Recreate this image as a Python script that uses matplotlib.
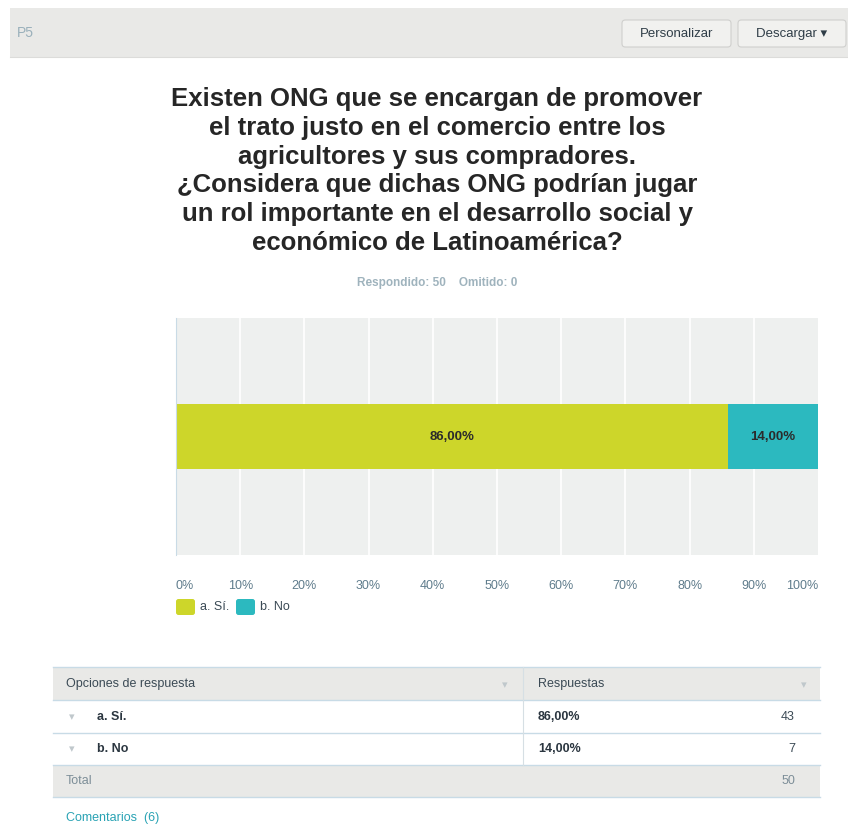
import matplotlib.pyplot as plt
from matplotlib.patches import Rectangle, FancyBboxPatch

plt.rcParams['font.family'] = ['Liberation Sans', 'DejaVu Sans']

# data
categories = ['a. Sí.', 'b. No']
percents = [86.0, 14.0]
counts = [43, 7]
answered = 50
skipped = 0
comments = 6
colors = ['#cdd62a', '#2cb9bf']
ticks = [0, 10, 20, 30, 40, 50, 60, 70, 80, 90, 100]

W, H = 848, 834
fig = plt.figure(figsize=(W / 100, H / 100), dpi=100)


def fx(x):
    return x / W


def fy(y):
    return 1 - y / H


def box(x0, y0, x1, y1, fc, ec='none', lw=0.8):
    fig.patches.append(Rectangle((fx(x0), fy(y1)), fx(x1) - fx(x0), fy(y0) - fy(y1),
                                 transform=fig.transFigure, fc=fc, ec=ec, lw=lw))


def line(x0, y0, x1, y1, c, lw=0.8):
    fig.add_artist(plt.Line2D([fx(x0), fx(x1)], [fy(y0), fy(y1)], color=c, lw=lw,
                              transform=fig.transFigure))


# header bar
box(10, 8, 848, 57, '#e9e9e7')
line(10, 57, 848, 57, '#dcdcda')
fig.text(fx(17), fy(33), 'P5', fontsize=10, color='#9ab0bb', va='center')
for x0, x1, label in [(622, 731, 'Personalizar'), (738, 846, 'Descargar ▾')]:
    fig.patches.append(FancyBboxPatch((fx(x0), fy(47)), fx(x1) - fx(x0), fy(20) - fy(47),
                                      boxstyle='round,pad=0,rounding_size=0.004',
                                      transform=fig.transFigure, fc='#f1f1ef', ec='#cfcfcd', lw=0.8))
    fig.text(fx((x0 + x1) / 2), fy(34), label, fontsize=9.5, color='#2f3d47',
             ha='center', va='center', family=['Liberation Sans', 'DejaVu Sans'])

# title
title = ('Existen ONG que se encargan de promover\n'
         'el trato justo en el comercio entre los\n'
         'agricultores y sus compradores.\n'
         '¿Considera que dichas ONG podrían jugar\n'
         'un rol importante en el desarrollo social y\n'
         'económico de Latinoamérica?')
fig.text(fx(437), fy(171), title, fontsize=18.5, fontweight='bold', color='#262626',
         ha='center', va='center', linespacing=1.25)
fig.text(fx(437), fy(283), f'Respondido: {answered}    Omitido: {skipped}', fontsize=8.5,
         fontweight='bold', color='#9fb3bd', ha='center', va='center')

# chart
ax = fig.add_axes([fx(176), fy(555), fx(818) - fx(176), fy(318) - fy(555)])
ax.set_facecolor('#eef0ef')
ax.set_xlim(0, 100)
ax.set_ylim(-1.85, 1.85)
for t in ticks[1:-1]:
    ax.axvline(t, color='white', lw=1.2, zorder=0)
left = 0
for cat, p, c in zip(categories, percents, colors):
    ax.barh(0, p, left=left, height=1.0, color=c, zorder=2)
    ax.text(left + p / 2, 0, f'{p:.2f}%'.replace('.', ','), ha='center', va='center',
            fontsize=9.5, fontweight='bold', color='#2b2b2b', zorder=3)
    left += p
for s in ['top', 'right', 'bottom']:
    ax.spines[s].set_visible(False)
ax.spines['left'].set_color('#c9dbe6')
ax.set_yticks([])
ax.set_xticks(ticks)
ax.set_xticklabels([f'{t}%' for t in ticks], fontsize=9, color='#5f7c8c')
ax.tick_params(axis='x', length=0, pad=18)
lbls = ax.get_xticklabels()
lbls[0].set_ha('left')
lbls[-1].set_ha('right')

# legend
for x0, cat, c in [(176, categories[0], colors[0]), (236, categories[1], colors[1])]:
    fig.patches.append(FancyBboxPatch((fx(x0), fy(615)), fx(19), fy(0) - fy(16),
                                      boxstyle='round,pad=0,rounding_size=0.003',
                                      transform=fig.transFigure, fc=c, ec='none'))
    fig.text(fx(x0 + 24), fy(607), cat, fontsize=9, color='#3b4a55', va='center')

# table
tx0, tx1, tdiv = 53, 820, 523
box(tx0, 667, tx1, 700, '#e9e9e7')
box(tx0, 765, tx1, 797, '#e9e9e7')
for y in [667, 700, 733, 765, 797]:
    line(tx0, y, tx1, y, '#c8dbe6', 1.0)
line(tdiv, 667, tdiv, 765, '#d6dfe4', 0.8)
fig.text(fx(66), fy(684), 'Opciones de respuesta', fontsize=9, color='#3b4a55', va='center')
fig.text(fx(538), fy(684), 'Respuestas', fontsize=9, color='#3b4a55', va='center')
fig.text(fx(505), fy(685), '▾', fontsize=8, color='#c0c8cc', va='center', ha='center',
         family=['DejaVu Sans'])
fig.text(fx(804), fy(685), '▾', fontsize=8, color='#c0c8cc', va='center', ha='center',
         family=['DejaVu Sans'])
for i, (cat, p, n) in enumerate(zip(categories, percents, counts)):
    yc = 717 + i * 32.5
    fig.text(fx(72), fy(yc), '▾', fontsize=8, color='#c0c8cc', va='center', ha='center',
             family=['DejaVu Sans'])
    fig.text(fx(97), fy(yc), cat, fontsize=9, fontweight='bold', color='#2b3640', va='center')
    fig.text(fx(538), fy(yc), f'{p:.2f}%'.replace('.', ','), fontsize=9, fontweight='bold',
             color='#2b3640', va='center')
    fig.text(fx(795), fy(yc), str(n), fontsize=9, color='#3b4a55', va='center', ha='right')
fig.text(fx(66), fy(781), 'Total', fontsize=9, color='#7d8e98', va='center')
fig.text(fx(795), fy(781), str(sum(counts)), fontsize=9, color='#7d8e98', va='center', ha='right')
fig.text(fx(66), fy(818), f'Comentarios  ({comments})', fontsize=9, color='#2aa3b4', va='center')

fig.savefig('out.png', dpi=100)
